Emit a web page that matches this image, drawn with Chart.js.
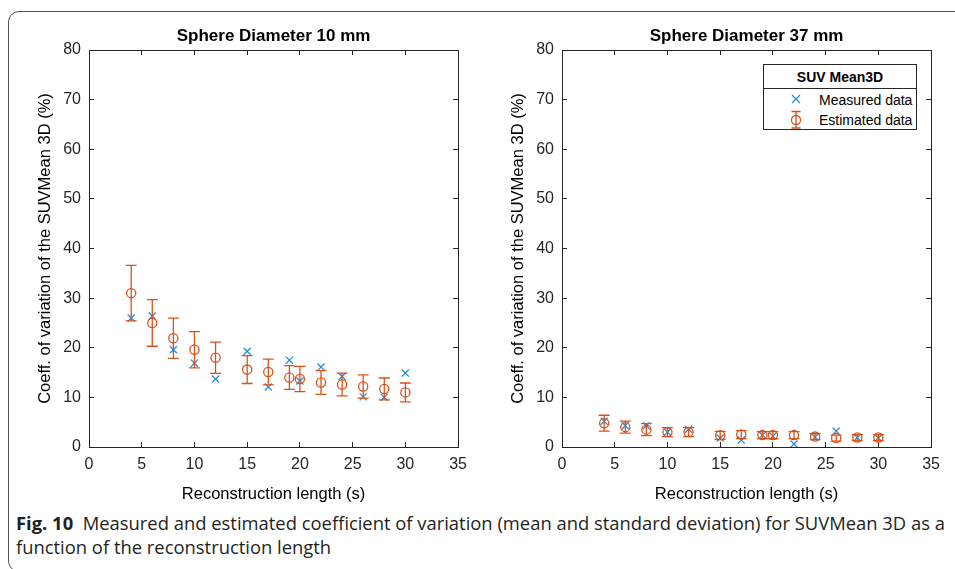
<!DOCTYPE html>
<html><head><meta charset="utf-8">
<script src="https://cdn.jsdelivr.net/npm/chart.js@4.4.1/dist/chart.umd.min.js"></script>
<style>
html,body{margin:0;padding:0;background:#fff;width:955px;height:569px;overflow:hidden;position:relative;font-family:"Liberation Sans",Arial,sans-serif}
#frame{position:absolute;left:8px;top:11px;width:1000px;height:561px;border:1px solid #555;border-radius:11px;box-sizing:border-box}
#c1w{position:absolute;left:0;top:0;width:480px;height:510px}
#c2w{position:absolute;left:473px;top:0;width:480px;height:510px}
#legend{position:absolute;left:763px;top:64px;width:154px;height:66px;border:1px solid #262626;background:#fff;box-sizing:border-box;color:#000}
#legend .lt{height:23px;border-bottom:1px solid #262626;text-align:center;font-weight:bold;font-size:14px;line-height:24px}
#legend .row{position:relative;height:20px;font-size:14px;line-height:20px}
#legend .row svg{position:absolute;left:22px;top:0}
#legend .row span{position:absolute;left:55px;top:0;white-space:nowrap}
#caption{position:absolute;left:16px;top:511px;width:940px;font-family:"Open Sans",sans-serif;font-size:18.4px;line-height:24px;color:#231f20}
</style></head>
<body>
<div id="frame"></div>
<div id="c1w"><canvas id="c1" width="480" height="510"></canvas></div>
<div id="c2w"><canvas id="c2" width="480" height="510"></canvas></div>
<div id="legend">
  <div class="lt">SUV Mean3D</div>
  <div class="row" style="margin-top:1px"><svg width="20" height="20"><path d="M6 5 L14 13 M14 5 L6 13" stroke="#2b8bd6" stroke-width="1.3" fill="none"/></svg><span>Measured data</span></div>
  <div class="row"><svg width="20" height="20"><path d="M5.5 1.5 H14.5 M10 1.5 V18 M5.5 18 H14.5" stroke="#D95319" stroke-width="1.3" fill="none"/><circle cx="10" cy="10" r="4.5" stroke="#D95319" stroke-width="1.3" fill="none"/></svg><span>Estimated data</span></div>
</div>
<div id="caption"><b>Fig. 10</b>&nbsp; Measured and estimated coefficient of variation (mean and standard deviation) for SUVMean 3D as a function of the reconstruction length</div>
<script>
// ---- data ----
const reconLength = [4, 6, 8, 10, 12, 15, 17, 19, 20, 22, 24, 26, 28, 30];
const xTicks = [0, 5, 10, 15, 20, 25, 30, 35];
const yTicks = [0, 10, 20, 30, 40, 50, 60, 70, 80];
const measured10 = [26.0, 26.4, 19.6, 16.9, 13.7, 19.3, 12.1, 17.5, 13.3, 16.1, 14.2, 10.1, 10.0, 14.9];
const estimated10 = [31.0, 25.0, 21.9, 19.6, 18.0, 15.6, 15.1, 14.0, 13.7, 13.0, 12.6, 12.2, 11.7, 11.0];
const std10 = [5.6, 4.7, 4.05, 3.65, 3.15, 2.8, 2.6, 2.4, 2.55, 2.4, 2.3, 2.35, 2.2, 1.9];
const measured37 = [5.2, 4.3, 4.3, 3.0, 3.6, 1.8, 1.4, 2.4, 2.2, 0.6, 2.0, 3.2, 1.9, 1.8];
const estimated37 = [4.8, 4.0, 3.5, 3.0, 3.0, 2.35, 2.5, 2.4, 2.4, 2.4, 2.1, 1.8, 1.9, 1.9];
const std37 = [1.6, 1.2, 1.2, 0.9, 0.9, 0.8, 0.8, 0.7, 0.7, 0.7, 0.6, 0.6, 0.6, 0.6];

const BLUE = '#2b8bd6';
const ORANGE = '#D95319';
const AX = '#262626';
const FONT = 'Liberation Sans';

const errorBarPlugin = {
  id: 'errbars',
  afterDatasetsDraw(chart, args, opts) {
    const ctx = chart.ctx;
    const xs = chart.scales.x, ys = chart.scales.y;
    const ds = chart.data.datasets[0].data;
    ctx.save();
    ctx.strokeStyle = ORANGE;
    ctx.lineWidth = 1.3;
    ds.forEach((p, i) => {
      const s = opts.std[i];
      const px = xs.getPixelForValue(p.x);
      const top = ys.getPixelForValue(p.y + s);
      const bot = ys.getPixelForValue(p.y - s);
      const cw = 5.5;
      ctx.beginPath();
      ctx.moveTo(px, top); ctx.lineTo(px, bot);
      ctx.moveTo(px - cw, top); ctx.lineTo(px + cw, top);
      ctx.moveTo(px - cw, bot); ctx.lineTo(px + cw, bot);
      ctx.stroke();
    });
    ctx.restore();
  }
};

function tickCb(list) { return (v) => list.includes(v) ? String(v) : ''; }

function makeChart(id, title, meas, est, std) {
  return new Chart(document.getElementById(id), {
    type: 'scatter',
    data: {
      datasets: [
        { label: 'Estimated data', data: reconLength.map((x, i) => ({ x, y: est[i] })),
          pointStyle: 'circle', pointRadius: 4.6, borderColor: ORANGE, backgroundColor: 'rgba(0,0,0,0)', borderWidth: 1.3, showLine: false },
        { label: 'Measured data', data: reconLength.map((x, i) => ({ x, y: meas[i] })),
          pointStyle: 'crossRot', pointRadius: 5, borderColor: BLUE, backgroundColor: BLUE, borderWidth: 1.3, showLine: false }
      ]
    },
    options: {
      responsive: false, animation: false, maintainAspectRatio: false,
      layout: { padding: { left: 0, right: 19, top: 0, bottom: 0 } },
      plugins: {
        legend: { display: false }, tooltip: { enabled: false },
        title: { display: true, text: title, fullSize: false, color: '#000',
          font: { family: FONT, size: 17, weight: 'bold' }, padding: { top: 25.8, bottom: 3.8 } },
        errbars: { std }
      },
      scales: {
        x: { type: 'linear', position: 'bottom', min: 0, max: 35,
          afterBuildTicks(s) { s.ticks = xTicks.map(v => ({ value: v })); },
          ticks: { color: AX, padding: 13, font: { family: FONT, size: 16 }, maxRotation: 0, callback: tickCb(xTicks) },
          grid: { drawOnChartArea: false, tickLength: -5, color: AX, lineWidth: 1 },
          border: { color: AX, width: 1 },
          title: { display: true, text: 'Reconstruction length (s)', color: '#000', font: { family: FONT, size: 16.5 }, padding: { top: 0, bottom: 6 } },
          afterFit(s) { s.height = 63; } },
        x2: { type: 'linear', position: 'top', min: 0, max: 35,
          afterBuildTicks(s) { s.ticks = xTicks.map(v => ({ value: v })); },
          ticks: { display: false },
          grid: { drawOnChartArea: false, tickLength: -5, color: AX, lineWidth: 1 },
          border: { color: AX, width: 1 },
          afterFit(s) { s.height = 0; } },
        y: { type: 'linear', position: 'left', min: 0, max: 80,
          afterBuildTicks(s) { s.ticks = yTicks.map(v => ({ value: v })); },
          ticks: { color: AX, padding: 13, font: { family: FONT, size: 16 }, callback: tickCb(yTicks) },
          grid: { drawOnChartArea: false, tickLength: -5, color: AX, lineWidth: 1 },
          border: { color: AX, width: 1 },
          title: { display: true, text: 'Coeff. of variation of the SUVMean 3D (%)', color: '#000', font: { family: FONT, size: 16.5 }, padding: { top: 36, bottom: 0 } },
          afterFit(s) { s.width = 89; } },
        y2: { type: 'linear', position: 'right', min: 0, max: 80,
          afterBuildTicks(s) { s.ticks = yTicks.map(v => ({ value: v })); },
          ticks: { display: false },
          grid: { drawOnChartArea: false, tickLength: -5, color: AX, lineWidth: 1 },
          border: { color: AX, width: 1 },
          afterFit(s) { s.width = 0; } }
      }
    },
    plugins: [errorBarPlugin]
  });
}

makeChart('c1', 'Sphere Diameter 10 mm', measured10, estimated10, std10);
makeChart('c2', 'Sphere Diameter 37 mm', measured37, estimated37, std37);
</script>
</body></html>
